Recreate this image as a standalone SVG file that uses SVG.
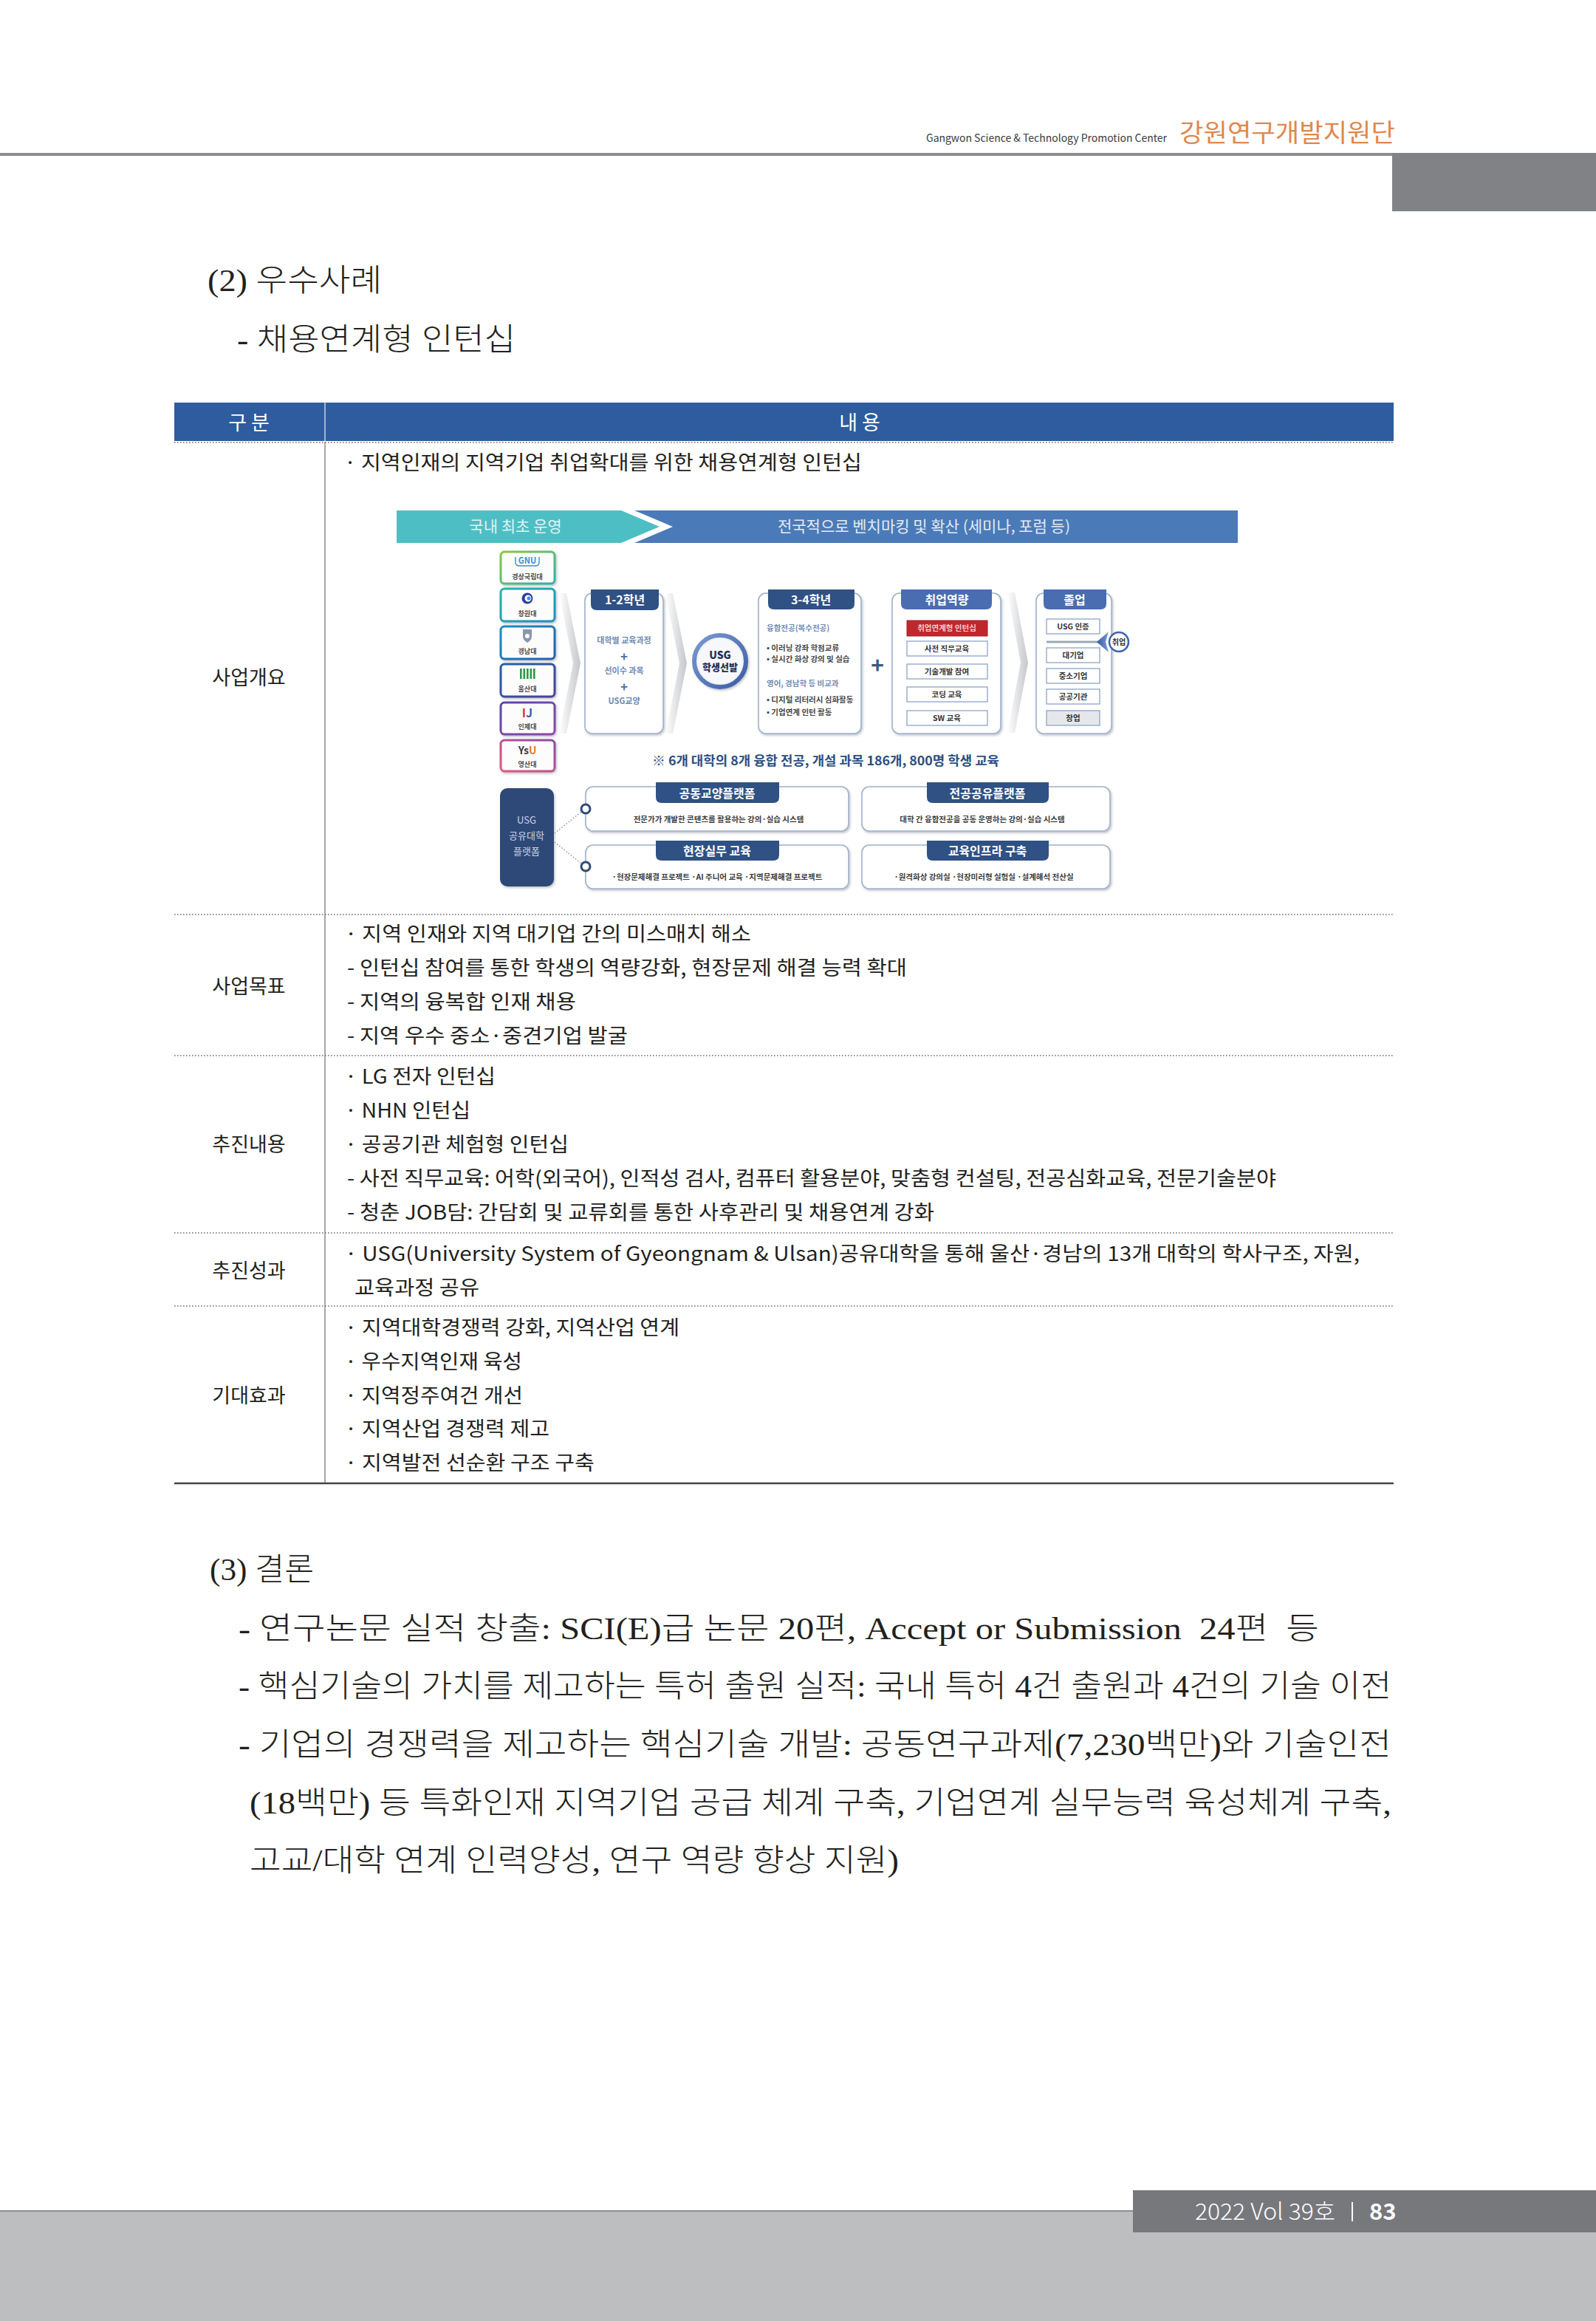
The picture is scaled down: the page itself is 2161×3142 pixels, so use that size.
<svg xmlns="http://www.w3.org/2000/svg" width="2161" height="3142" viewBox="0 0 2161 3142">
<defs>
<style>
.s{font-family:'Noto Sans CJK KR','Noto Sans',sans-serif}
.sf{font-family:'Liberation Serif','Noto Sans CJK KR',serif;font-size:42px;fill:#231f20}
.tb{font-family:'Noto Sans CJK KR','Noto Sans',sans-serif;font-size:27px;fill:#231f20}
.mid{text-anchor:middle}
.dot{stroke:#6d6e71;stroke-width:1.6;stroke-dasharray:1.6 2.4;fill:none}
.stage{fill:#fff;stroke:#9fb1cc;stroke-width:1.6}
.tabD{fill:#2f5184}
.tabL{fill:#4a6cb0}
.tabT{font-family:'Noto Sans CJK KR','Noto Sans',sans-serif;font-size:16px;fill:#fff;font-weight:700;text-anchor:middle}
.ib{fill:#fff;stroke:#8ea3c9;stroke-width:1.3}
.ibT{font-family:'Noto Sans CJK KR','Noto Sans',sans-serif;font-size:10.5px;font-weight:700;fill:#333;text-anchor:middle}
.uni{fill:#fcfcfd;stroke-width:3}
.uniT{font-family:'Noto Sans CJK KR','Noto Sans',sans-serif;font-size:9px;font-weight:700;fill:#4a4a4a;text-anchor:middle}
.plat{fill:#fff;stroke:#9fb1cc;stroke-width:1.6}
.desc{font-family:'Noto Sans CJK KR','Noto Sans',sans-serif;font-size:10.5px;font-weight:700;fill:#3a3a3a;text-anchor:middle}
.blu{font-family:'Noto Sans CJK KR','Noto Sans',sans-serif;font-size:11px;font-weight:700;fill:#6f8bb5}
.gry{font-family:'Noto Sans CJK KR','Noto Sans',sans-serif;font-size:10.5px;font-weight:700;fill:#454545}
.chev{fill:url(#chevG)}
</style>
<filter id="sh" x="-10%" y="-10%" width="130%" height="130%">
<feDropShadow dx="1.5" dy="2" stdDeviation="1.5" flood-color="#4a5a70" flood-opacity="0.35"/>
</filter>
<linearGradient id="chevG" x1="0" y1="0" x2="1" y2="0">
<stop offset="0" stop-color="#ffffff"/><stop offset="1" stop-color="#c4c6ca"/>
</linearGradient>
<linearGradient id="ringG" x1="0" y1="0" x2="1" y2="1">
<stop offset="0" stop-color="#7d9bd2"/><stop offset="1" stop-color="#3b5ca3"/>
</linearGradient>
<linearGradient id="g1" x1="0" y1="0" x2="1" y2="1"><stop offset="0" stop-color="#8cc63f"/><stop offset="1" stop-color="#2ab3a6"/></linearGradient>
<linearGradient id="g2" x1="0" y1="0" x2="1" y2="1"><stop offset="0" stop-color="#2ab3a6"/><stop offset="1" stop-color="#1b8fc2"/></linearGradient>
<linearGradient id="g3" x1="0" y1="0" x2="1" y2="1"><stop offset="0" stop-color="#1b8fc2"/><stop offset="1" stop-color="#2360a8"/></linearGradient>
<linearGradient id="g4" x1="0" y1="0" x2="1" y2="1"><stop offset="0" stop-color="#2360a8"/><stop offset="1" stop-color="#4b3f98"/></linearGradient>
<linearGradient id="g5" x1="0" y1="0" x2="1" y2="1"><stop offset="0" stop-color="#5b47a0"/><stop offset="1" stop-color="#8d4aa6"/></linearGradient>
<linearGradient id="g6" x1="0" y1="1" x2="1" y2="0"><stop offset="0" stop-color="#e5587a"/><stop offset="1" stop-color="#8d4aa6"/></linearGradient>
<linearGradient id="arrG" x1="0" y1="0" x2="1" y2="0"><stop offset="0" stop-color="#2f5aa8"/><stop offset="1" stop-color="#7d9bd2"/></linearGradient>
</defs>

<rect width="2161" height="3142" fill="#ffffff"/>

<!-- page header -->
<g id="page-header">
<rect x="0" y="207" width="1885" height="4" fill="#8b8c8f"/>
<rect x="1885" y="207" width="276" height="79" fill="#818286"/>
<text class="s" x="1254" y="192" font-size="14" fill="#3a3a3a" textLength="326" lengthAdjust="spacingAndGlyphs">Gangwon Science &amp; Technology Promotion Center</text>
<text class="s" x="1597" y="192" font-size="34" fill="#e0874e" textLength="292" lengthAdjust="spacingAndGlyphs">강원연구개발지원단</text>
</g>

<g id="headings">
<text class="sf" x="281" y="394" font-weight="300" textLength="236" lengthAdjust="spacingAndGlyphs">(2) 우수사례</text>
<text class="sf" x="321" y="474" font-weight="300" textLength="377" lengthAdjust="spacingAndGlyphs">- 채용연계형 인턴십</text>
</g>

<!-- table -->
<g id="table-frame">
<rect x="236" y="545" width="1651" height="52" fill="#2e5c9e"/>
<line x1="440" y1="545" x2="440" y2="597" stroke="#c5d2e6" stroke-width="1.5"/>
<text class="tb mid" x="337" y="582" style="fill:#fff">구 분</text>
<text class="tb mid" x="1164" y="582" style="fill:#fff">내 용</text>
<line x1="440" y1="598" x2="440" y2="2008" stroke="#8a8a8a" stroke-width="1.5"/>
<line class="dot" x1="236" y1="599" x2="1887" y2="599"/>
<line class="dot" x1="236" y1="1238" x2="1887" y2="1238"/>
<line class="dot" x1="236" y1="1429" x2="1887" y2="1429"/>
<line class="dot" x1="236" y1="1669" x2="1887" y2="1669"/>
<line class="dot" x1="236" y1="1768" x2="1887" y2="1768"/>
<line x1="236" y1="2008" x2="1887" y2="2008" stroke="#444" stroke-width="2.5"/>
</g>

<g id="row-overview">
<text class="tb mid" x="337" y="927">사업개요</text>
<text class="tb" x="466" y="636" textLength="701" lengthAdjust="spacingAndGlyphs">· 지역인재의 지역기업 취업확대를 위한 채용연계형 인턴십</text>
</g>

<g id="row-goal">
<text class="tb mid" x="337" y="1345">사업목표</text>
<text class="tb" x="467" y="1274" textLength="550" lengthAdjust="spacingAndGlyphs">· 지역 인재와 지역 대기업 간의 미스매치 해소</text>
<text class="tb" x="470" y="1320" textLength="758" lengthAdjust="spacingAndGlyphs">- 인턴십 참여를 통한 학생의 역량강화, 현장문제 해결 능력 확대</text>
<text class="tb" x="470" y="1366" textLength="310" lengthAdjust="spacingAndGlyphs">- 지역의 융복합 인재 채용</text>
<text class="tb" x="470" y="1412" textLength="380" lengthAdjust="spacingAndGlyphs">- 지역 우수 중소·중견기업 발굴</text>
</g>

<g id="row-content">
<text class="tb mid" x="337" y="1559">추진내용</text>
<text class="tb" x="467" y="1467" textLength="204" lengthAdjust="spacingAndGlyphs">· LG 전자 인턴십</text>
<text class="tb" x="467" y="1513" textLength="170" lengthAdjust="spacingAndGlyphs">· NHN 인턴십</text>
<text class="tb" x="467" y="1559" textLength="303" lengthAdjust="spacingAndGlyphs">· 공공기관 체험형 인턴십</text>
<text class="tb" x="470" y="1605" textLength="1258" lengthAdjust="spacingAndGlyphs">- 사전 직무교육: 어학(외국어), 인적성 검사, 컴퓨터 활용분야, 맞춤형 컨설팅, 전공심화교육, 전문기술분야</text>
<text class="tb" x="470" y="1651" textLength="795" lengthAdjust="spacingAndGlyphs">- 청춘 JOB담: 간담회 및 교류회를 통한 사후관리 및 채용연계 강화</text>
</g>

<g id="row-result">
<text class="tb mid" x="337" y="1730">추진성과</text>
<text class="tb" x="467" y="1707" textLength="1374" lengthAdjust="spacingAndGlyphs">· USG(University System of Gyeongnam &amp; Ulsan)공유대학을 통해 울산·경남의 13개 대학의 학사구조, 자원,</text>
<text class="tb" x="480" y="1753" textLength="169" lengthAdjust="spacingAndGlyphs">교육과정 공유</text>
</g>

<g id="row-effect">
<text class="tb mid" x="337" y="1899">기대효과</text>
<text class="tb" x="467" y="1807" textLength="453" lengthAdjust="spacingAndGlyphs">· 지역대학경쟁력 강화, 지역산업 연계</text>
<text class="tb" x="467" y="1853" textLength="240" lengthAdjust="spacingAndGlyphs">· 우수지역인재 육성</text>
<text class="tb" x="467" y="1899" textLength="241" lengthAdjust="spacingAndGlyphs">· 지역정주여건 개선</text>
<text class="tb" x="467" y="1944" textLength="277" lengthAdjust="spacingAndGlyphs">· 지역산업 경쟁력 제고</text>
<text class="tb" x="467" y="1990" textLength="338" lengthAdjust="spacingAndGlyphs">· 지역발전 선순환 구조 구축</text>
</g>

<!-- infographic -->
<g id="banner">
<polygon points="537,691 841,691 893,713 841,735 537,735" fill="#4dbfc4"/>
<polygon points="859,691 1676,691 1676,735 859,735 911,713" fill="#4a7bb8"/>
<text class="s mid" x="698" y="720" font-size="21" fill="#e2f1f3">국내 최초 운영</text>
<text class="s mid" x="1251" y="720" font-size="21" fill="#e3eaf4">전국적으로 벤치마킹 및 확산 (세미나, 포럼 등)</text>
</g>

<g id="universities">
<g id="uni-gnu">
<rect class="uni" x="678" y="747" width="73" height="43" rx="5" stroke="url(#g1)" filter="url(#sh)"/>
<path d="M698,754 v7 q0,5 5,5 h22 q5,0 5,-5 v-7" fill="none" stroke="#3a8fd0" stroke-width="1.4"/>
<text class="s mid" x="714" y="763" font-size="11" font-weight="700" fill="#3a8fd0">GNU</text>
<text class="uniT" x="714" y="784">경상국립대</text>
</g>
<g id="uni-changwon">
<rect class="uni" x="678" y="797" width="73" height="44" rx="5" stroke="url(#g2)" filter="url(#sh)"/>
<circle cx="714" cy="810" r="7.5" fill="#2b3f9e"/>
<circle cx="715" cy="810" r="4.5" fill="#ffffff"/>
<circle cx="716" cy="810" r="2.5" fill="#3f8fd8"/>
<text class="uniT" x="714" y="834">창원대</text>
</g>
<g id="uni-kyungnam">
<rect class="uni" x="678" y="848" width="73" height="44" rx="5" stroke="url(#g3)" filter="url(#sh)"/>
<path d="M708,852 h12 v9 q0,6 -6,9 q-6,-3 -6,-9 z" fill="#8b96aa"/>
<circle cx="714" cy="861" r="3" fill="#ffffff"/>
<text class="uniT" x="714" y="885">경남대</text>
</g>
<g id="uni-ulsan">
<rect class="uni" x="678" y="899" width="73" height="44" rx="5" stroke="url(#g4)" filter="url(#sh)"/>
<rect x="704" y="905" width="2.6" height="14" fill="#2e9a48"/>
<rect x="708.5" y="905" width="2.6" height="14" fill="#2e9a48"/>
<rect x="713" y="905" width="2.6" height="14" fill="#2e9a48"/>
<rect x="717.5" y="905" width="2.6" height="14" fill="#2e9a48"/>
<rect x="722" y="905" width="2.6" height="14" fill="#2e9a48"/>
<text class="uniT" x="714" y="936">울산대</text>
</g>
<g id="uni-inje">
<rect class="uni" x="678" y="951" width="73" height="43" rx="5" stroke="url(#g5)" filter="url(#sh)"/>
<text class="s mid" x="714" y="971" font-size="16" font-weight="700"><tspan fill="#d0314a">I</tspan><tspan fill="#3d5fb0">J</tspan></text>
<text class="uniT" x="714" y="987">인제대</text>
</g>
<g id="uni-youngsan">
<rect class="uni" x="678" y="1002" width="73" height="42" rx="5" stroke="url(#g6)" filter="url(#sh)"/>
<text class="s mid" x="714" y="1021" font-size="14" font-weight="700"><tspan fill="#3a3a3a">Ys</tspan><tspan fill="#e8782a">U</tspan></text>
<text class="uniT" x="714" y="1038">영산대</text>
</g>
</g>

<g id="chevrons">
<polygon class="chev" points="757,803 767,803 786,898 767,993 757,993 776,898"/>
<polygon class="chev" points="901,803 911,803 930,898 911,993 901,993 920,898"/>
<polygon class="chev" points="1364,802 1374,802 1392,897 1374,992 1364,992 1382,897"/>
</g>

<g id="stage-12">
<rect class="stage" x="792" y="803" width="106" height="190" rx="10" filter="url(#sh)"/>
<path class="tabD" d="M800,798 H892 V818 Q892,826 884,826 H808 Q800,826 800,818 Z"/>
<text class="tabT" x="846" y="818">1-2학년</text>
<text class="blu mid" x="845" y="871">대학별 교육과정</text>
<text class="s mid" x="845" y="895" font-size="17" font-weight="700" fill="#4d6da3">+</text>
<text class="blu mid" x="845" y="912">선이수 과목</text>
<text class="s mid" x="845" y="936" font-size="17" font-weight="700" fill="#4d6da3">+</text>
<text class="blu mid" x="845" y="953">USG교양</text>
</g>

<g id="usg-select">
<circle cx="975" cy="895" r="35" fill="#eef2f8" stroke="url(#ringG)" stroke-width="6" filter="url(#sh)"/>
<circle cx="975" cy="895" r="30" fill="#f7f8fb"/>
<text class="s mid" x="975" y="892" font-size="14" font-weight="900" fill="#1f2f55">USG</text>
<text class="s mid" x="975" y="908" font-size="13" font-weight="900" fill="#1f2f55">학생선발</text>
</g>

<g id="stage-34">
<rect class="stage" x="1027" y="803" width="139" height="190" rx="10" filter="url(#sh)"/>
<path class="tabD" d="M1040,798 H1157 V817 Q1157,825 1149,825 H1048 Q1040,825 1040,817 Z"/>
<text class="tabT" x="1098" y="818">3-4학년</text>
<text class="blu" x="1038" y="854" style="font-size:10.5px">융합전공(복수전공)</text>
<text class="gry" x="1038" y="881">• 이러닝 강좌 학점교류</text>
<text class="gry" x="1038" y="896">• 실시간 화상 강의 및 실습</text>
<text class="blu" x="1038" y="929" style="font-size:10.5px">영어, 경남학 등 비교과</text>
<text class="gry" x="1038" y="951">• 디지털 리터러시 심화활동</text>
<text class="gry" x="1038" y="968">• 기업연계 인턴 활동</text>
</g>

<g id="plus">
<text class="s mid" x="1188" y="912" font-size="30" font-weight="700" fill="#3d5a85">+</text>
</g>

<g id="stage-job">
<rect class="stage" x="1208" y="803" width="147" height="190" rx="10" filter="url(#sh)"/>
<path class="tabL" d="M1220,798 H1343 V817 Q1343,825 1335,825 H1228 Q1220,825 1220,817 Z"/>
<text class="tabT" x="1282" y="818">취업역량</text>
<rect x="1228" y="840" width="109" height="21" fill="#c0272d" stroke="#a01f24" stroke-width="1"/>
<text class="ibT" x="1282" y="854" style="fill:#f6cccc">취업연계형 인턴십</text>
<rect class="ib" x="1228" y="868" width="109" height="20"/>
<text class="ibT" x="1282" y="882">사전 직무교육</text>
<rect class="ib" x="1228" y="899" width="109" height="20"/>
<text class="ibT" x="1282" y="913">기술개발 참여</text>
<rect class="ib" x="1228" y="930" width="109" height="20"/>
<text class="ibT" x="1282" y="944">코딩 교육</text>
<rect class="ib" x="1228" y="962" width="109" height="20"/>
<text class="ibT" x="1282" y="976">SW 교육</text>
</g>

<g id="stage-grad">
<rect class="stage" x="1403" y="803" width="102" height="190" rx="10" filter="url(#sh)"/>
<path class="tabL" d="M1413,798 H1498 V817 Q1498,825 1490,825 H1421 Q1413,825 1413,817 Z"/>
<text class="tabT" x="1455" y="818">졸업</text>
<rect class="ib" x="1417" y="838" width="72" height="20"/>
<text class="ibT" x="1453" y="852">USG 인증</text>
<line x1="1417" y1="869" x2="1489" y2="869" stroke="#9aa6bc" stroke-width="3"/>
<rect class="ib" x="1417" y="877" width="72" height="20"/>
<text class="ibT" x="1453" y="891">대기업</text>
<rect class="ib" x="1417" y="905" width="72" height="20"/>
<text class="ibT" x="1453" y="919">중소기업</text>
<rect class="ib" x="1417" y="933" width="72" height="20"/>
<text class="ibT" x="1453" y="947">공공기관</text>
<rect class="ib" x="1417" y="962" width="72" height="20" style="fill:#e6e7ea"/>
<text class="ibT" x="1453" y="976">창업</text>
</g>

<g id="job-marker">
<polygon points="1485,869 1501,855 1497,869 1501,883" fill="url(#arrG)"/>
<circle cx="1515" cy="869" r="13" fill="#ffffff" stroke="#3f63a8" stroke-width="2.5"/>
<text class="s mid" x="1515" y="873" font-size="10" font-weight="700" fill="#2a2a2a">취업</text>
</g>

<g id="summary-note">
<text class="s" x="883" y="1036" font-size="17" font-weight="700" fill="#2d4e7e" textLength="470" lengthAdjust="spacingAndGlyphs">※ 6개 대학의 8개 융합 전공, 개설 과목 186개, 800명 학생 교육</text>
</g>

<g id="usg-platform">
<rect x="677" y="1067" width="73" height="133" rx="10" fill="#2d4a78" filter="url(#sh)"/>
<text class="s mid" x="713" y="1115" font-size="13" fill="#c8d4ea">USG</text>
<text class="s mid" x="713" y="1136" font-size="13" fill="#c8d4ea">공유대학</text>
<text class="s mid" x="713" y="1157" font-size="13" fill="#c8d4ea">플랫폼</text>
</g>

<g id="connectors">
<line class="dot" x1="751" y1="1128" x2="787" y2="1099" style="stroke:#8a8a8a;stroke-width:1.3"/>
<line class="dot" x1="751" y1="1140" x2="787" y2="1169" style="stroke:#8a8a8a;stroke-width:1.3"/>
</g>

<g id="plat-common">
<rect class="plat" x="793" y="1065" width="356" height="60" rx="10" filter="url(#sh)"/>
<path class="tabD" d="M888,1059 H1055 V1079 Q1055,1087 1047,1087 H896 Q888,1087 888,1079 Z"/>
<text class="tabT" x="971" y="1080">공동교양플랫폼</text>
<text class="desc" x="973" y="1113">전문가가 개발한 콘텐츠를 활용하는 강의·실습 시스템</text>
<circle cx="793" cy="1095" r="6" fill="#fff" stroke="#2d4a78" stroke-width="3"/>
</g>

<g id="plat-field">
<rect class="plat" x="793" y="1144" width="356" height="59" rx="10" filter="url(#sh)"/>
<path class="tabD" d="M888,1138 H1055 V1157 Q1055,1165 1047,1165 H896 Q888,1165 888,1157 Z"/>
<text class="tabT" x="971" y="1158">현장실무 교육</text>
<text class="desc" x="971" y="1191">·현장문제해결 프로젝트   ·AI 주니어 교육   ·지역문제해결 프로젝트</text>
<circle cx="793" cy="1173" r="6" fill="#fff" stroke="#2d4a78" stroke-width="3"/>
</g>

<g id="plat-major">
<rect class="plat" x="1167" y="1065" width="336" height="60" rx="10" filter="url(#sh)"/>
<path class="tabD" d="M1255,1059 H1420 V1079 Q1420,1087 1412,1087 H1263 Q1255,1087 1255,1079 Z"/>
<text class="tabT" x="1337" y="1080">전공공유플랫폼</text>
<text class="desc" x="1330" y="1113">대학 간 융합전공을 공동 운영하는 강의·실습 시스템</text>
</g>

<g id="plat-infra">
<rect class="plat" x="1167" y="1144" width="336" height="59" rx="10" filter="url(#sh)"/>
<path class="tabD" d="M1255,1138 H1420 V1157 Q1420,1165 1412,1165 H1263 Q1255,1165 1255,1157 Z"/>
<text class="tabT" x="1337" y="1158">교육인프라 구축</text>
<text class="desc" x="1332" y="1191">·원격화상 강의실    ·현장미러형 실험실    ·설계해석 전산실</text>
</g>

<!-- conclusion -->
<g id="conclusion">
<text class="sf" x="284" y="2139" font-weight="300" textLength="141" lengthAdjust="spacingAndGlyphs">(3) 결론</text>
<text class="sf" x="323" y="2219" font-weight="300" textLength="1463" lengthAdjust="spacingAndGlyphs" xml:space="preserve">- 연구논문 실적 창출: SCI(E)급 논문 20편, Accept or Submission  24편  등</text>
<text class="sf" x="323" y="2297" font-weight="300" textLength="1561" lengthAdjust="spacingAndGlyphs">- 핵심기술의 가치를 제고하는 특허 출원 실적: 국내 특허 4건 출원과 4건의 기술 이전</text>
<text class="sf" x="323" y="2376" font-weight="300" textLength="1561" lengthAdjust="spacingAndGlyphs">- 기업의 경쟁력을 제고하는 핵심기술 개발: 공동연구과제(7,230백만)와 기술인전</text>
<text class="sf" x="338" y="2455" font-weight="300" textLength="1546" lengthAdjust="spacingAndGlyphs">(18백만) 등 특화인재 지역기업 공급 체계 구축, 기업연계 실무능력 육성체계 구축,</text>
<text class="sf" x="338" y="2533" font-weight="300" textLength="879" lengthAdjust="spacingAndGlyphs">고교/대학 연계 인력양성, 연구 역량 향상 지원)</text>
</g>

<!-- footer -->
<g id="page-footer">
<rect x="0" y="2993" width="2161" height="149" fill="#bdbec0"/>
<line x1="0" y1="2993" x2="1534" y2="2993" stroke="#8e8f92" stroke-width="2"/>
<rect x="1534" y="2965" width="627" height="57" fill="#77787c"/>
<text class="s" x="1618" y="3005" font-size="31" font-weight="300" fill="#ffffff" textLength="190" lengthAdjust="spacingAndGlyphs">2022 Vol 39호</text>
<rect x="1830" y="2981" width="2" height="26" fill="#ffffff"/>
<text class="s" x="1854" y="3005" font-size="31" font-weight="700" fill="#ffffff">83</text>
</g>
</svg>
